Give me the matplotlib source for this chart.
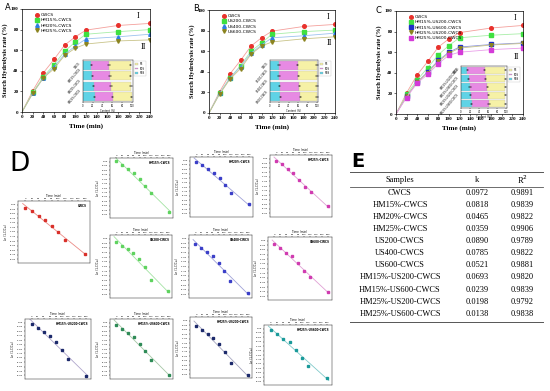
import matplotlib
matplotlib.use("Agg")
import matplotlib.pyplot as plt
import matplotlib.patches as mpatches
from matplotlib.lines import Line2D
import numpy as np

W, H = 550, 391
SERIF = "Liberation Serif"

# ---------------- data ---------------- #
t_hyd = [0, 20, 40, 60, 80, 100, 120, 180, 240]

a_labels = ["CWCS", "HM15%-CWCS", "HM20%-CWCS", "HM25%-CWCS"]
a_vals = [
    [0, 20.5, 38, 51, 65, 73, 79.5, 84, 86],
    [0, 19, 34, 46, 59, 68, 75.5, 78, 80],
    [0, 18, 33, 44, 56, 64, 71, 73, 75.5],
    [0, 18, 33, 42, 55, 62, 66, 69, 70],
]
b_labels = ["CWCS", "US200-CWCS", "US400-CWCS", "US600-CWCS"]
b_vals = [
    [0, 20.5, 38, 51, 65, 73, 79.5, 84, 86],
    [0, 19, 34, 46, 60, 68, 76.5, 79, 80.5],
    [0, 19, 34, 45, 58, 66, 73, 75, 77.5],
    [0, 18, 33, 43, 57, 65, 69, 72, 74],
]
c_labels = ["CWCS", "HM15%-US200-CWCS", "HM15%-US600-CWCS",
            "HM25%-US200-CWCS", "HM25%-US600-CWCS"]
c_vals = [
    [0, 20.5, 38, 51, 65, 73, 79, 83.5, 86],
    [0, 19, 33, 45, 57.5, 66.5, 74, 76.5, 78],
    [0, 17, 31, 41, 52, 60, 65, 67.5, 69],
    [0, 17, 31, 40, 51, 59, 64, 67, 68.5],
    [0, 16, 30, 38.5, 49, 57, 60, 62.5, 64],
]

# inset: starch fractions (%) per sample, top bar first
frac_names = ["RS", "SDS", "RDS"]
a_rds = [17, 19, 22, 24]
a_sds = [36, 36, 35, 37]
a_rs = [44, 42, 41, 38]
b_rds = [19, 19, 21, 22]
b_sds = [40, 41, 41, 42]
b_rs = [41, 40, 38, 36]
c_rds = [14, 17, 20, 22, 24]
c_sds = [39, 38, 38, 38, 38]
c_rs = [45, 43, 40, 38, 36]

# D: ln plots
t_ln = [0, 20, 40, 60, 80, 100, 120, 180]
ln_data = {
    "CWCS": [-0.16, -0.36, -0.60, -0.82, -1.18, -1.51, -1.95, -2.71],
    "HM15%-CWCS": [0.01, -0.21, -0.42, -0.64, -0.99, -1.41, -1.80, -2.85],
    "HM20%-CWCS": [-0.07, -0.27, -0.48, -0.69, -1.01, -1.37, -1.86, -2.48],
    "HM25%-CWCS": [-0.11, -0.31, -0.57, -0.76, -1.16, -1.56, -1.82, -2.61],
    "US200-CWCS": [-0.17, -0.37, -0.57, -0.77, -1.11, -1.52, -2.22, -2.82],
    "US400-CWCS": [-0.27, -0.50, -0.73, -0.96, -1.32, -1.73, -2.27, -2.91],
    "US600-CWCS": [-0.18, -0.39, -0.64, -0.82, -1.23, -1.64, -1.98, -2.75],
    "HM15%-US200-CWCS": [-0.10, -0.31, -0.52, -0.75, -1.09, -1.54, -2.05, -3.03],
    "HM15%-US600-CWCS": [-0.12, -0.35, -0.58, -0.82, -1.20, -1.63, -2.12, -2.96],
    "HM25%-US200-CWCS": [-0.28, -0.52, -0.74, -0.96, -1.33, -1.77, -2.34, -3.05],
    "HM25%-US600-CWCS": [-0.08, -0.31, -0.59, -0.76, -1.22, -1.65, -2.12, -2.79],
}

# E: table
tab_samples = ["CWCS", "HM15%-CWCS", "HM20%-CWCS", "HM25%-CWCS",
               "US200-CWCS", "US400-CWCS", "US600-CWCS",
               "HM15%-US200-CWCS", "HM15%-US600-CWCS",
               "HM25%-US200-CWCS", "HM25%-US600-CWCS"]
tab_k = ["0.0972", "0.0818", "0.0465", "0.0359", "0.0890", "0.0785",
         "0.0521", "0.0693", "0.0239", "0.0198", "0.0138"]
tab_r2 = ["0.9891", "0.9839", "0.9822", "0.9906", "0.9789", "0.9822",
          "0.9881", "0.9820", "0.9839", "0.9792", "0.9838"]


fig = plt.figure(figsize=(W / 100, H / 100), dpi=100)


def add_ax(l, t, r, b):
    return fig.add_axes([l / W, 1 - b / H, (r - l) / W, (b - t) / H])


def fx(x):
    return x / W


def fy(y):
    return 1 - y / H


# ---------------- A, B, C ---------------- #
def hydro_panel(box, labels, vals, colors, lcolors, markers, rom):
    ax = add_ax(*box)
    for lab, v, c, lc, m in zip(labels, vals, colors, lcolors, markers):
        ax.plot(t_hyd, v, "-", color=lc, lw=0.6)
        ax.plot(t_hyd[1:], v[1:], m, color=c, ms=2.6, ls="none", label=lab)
    ax.set_xlim(0, 240)
    ax.set_ylim(0, 100)
    ax.set_xticks(np.arange(0, 241, 20))
    ax.set_yticks(np.arange(0, 101, 20))
    ax.tick_params(labelsize=3.6, length=1.5, width=0.4, pad=1)
    for lab in ax.get_xticklabels() + ax.get_yticklabels():
        lab.set_family(SERIF)
        lab.set_weight("bold")
    for s in ax.spines.values():
        s.set_linewidth(0.5)
    ax.set_xlabel("Time (min)", fontsize=5, family=SERIF, weight="bold", labelpad=3)
    ax.set_ylabel("Starch Hydrolysis rate (%)", fontsize=4.6, family=SERIF,
                  weight="bold", labelpad=2)
    ax.legend(loc="upper left", bbox_to_anchor=(0.07, 0.99), fontsize=3.2,
              frameon=False, handlelength=1.2, handletextpad=0.3,
              labelspacing=0.25, borderpad=0.2)
    ax.text(rom[0], rom[1], "I", fontsize=6, family=SERIF)
    ax.text(rom[2], rom[3], "II", fontsize=6, family=SERIF)
    return ax


def inset_panel(box, names, rds, sds, rs):
    ax = add_ax(*box)
    y = np.arange(len(rds))[::-1]
    rds = np.array(rds)
    sds = np.array(sds)
    rs = np.array(rs)
    ekw = dict(elinewidth=0.3, capsize=0.6, capthick=0.3, ecolor="k")
    ax.barh(y, rds, 0.88, color="#5fd3e6", edgecolor="#b0b0b0", lw=0.2,
            xerr=1.2, error_kw=ekw, label=frac_names[2])
    ax.barh(y, sds, 0.88, left=rds, color="#e78ae3", edgecolor="#b0b0b0", lw=0.2,
            xerr=1.2, error_kw=ekw, label=frac_names[1])
    ax.barh(y, rs, 0.88, left=rds + sds, color="#f6f1a6", edgecolor="#b0b0b0",
            lw=0.2, xerr=1.2, error_kw=ekw, label=frac_names[0])
    ax.set_xlim(0, 102)
    ax.set_ylim(-0.5, len(rds) - 0.5)
    ax.set_yticks([])
    ax.set_xticks(np.arange(0, 101, 20))
    ax.tick_params(labelsize=1.8, length=0.8, width=0.3, pad=0.5)
    ax.set_xlabel("Content (%)", fontsize=1.8, labelpad=0.5)
    for s in ax.spines.values():
        s.set_linewidth(0.3)
    for yy, n in zip(y, names):
        ax.text(-2, yy, n, fontsize=1.8, rotation=50, ha="right", va="center")
    h = [mpatches.Patch(fc=c, ec="#999999", lw=0.2)
         for c in ["#f6f1a6", "#e78ae3", "#5fd3e6"]]
    ax.legend(h, frac_names, loc="upper left", bbox_to_anchor=(1.0, 1.0),
              fontsize=1.8, handlelength=1.2, handleheight=0.6,
              borderpad=0.3, labelspacing=0.2, frameon=True, fancybox=False,
              edgecolor="#999999").get_frame().set_linewidth(0.2)


red, green, blue, olive, mag = "#e8312c", "#3fe040", "#2f7fe0", "#8b8420", "#d43bd8"
lred, lgreen, lblue, lolive, lmag = "#f4a09c", "#a8eea8", "#9cc3ee", "#c9c48a", "#eaa0ea"

hydro_panel((22, 9, 150, 112), a_labels, a_vals,
            [red, green, blue, olive], [lred, lgreen, lblue, lolive],
            ["o", "s", "^", "v"], (215, 91, 222, 61))
inset_panel((83, 60, 133, 102), a_labels, a_rds, a_sds, a_rs)
fig.text(fx(5), fy(10), "A", fontsize=6, family="DejaVu Sans")

hydro_panel((209, 10, 335, 113), b_labels, b_vals,
            [red, green, blue, olive], [lred, lgreen, lblue, lolive],
            ["o", "s", "^", "v"], (224, 91, 224, 66))
inset_panel((270, 60, 318, 102), b_labels, b_rds, b_sds, b_rs)
fig.text(fx(193), fy(11), "B", fontsize=6, family="DejaVu Sans")

hydro_panel((396, 11, 523, 114), c_labels, c_vals,
            [red, green, "#1f2fc8", olive, mag],
            [lred, lgreen, "#8c95e0", lolive, lmag],
            ["o", "s", "s", "v", "s"], (222, 91, 222, 53))
inset_panel((461, 66, 507, 108), c_labels, c_rds, c_sds, c_rs)
fig.text(fx(376), fy(13), "C", fontsize=6, family="DejaVu Sans")

# ---------------- D ---------------- #
fig.text(fx(9), fy(171), "D", fontsize=19, family="DejaVu Sans")

ln_layout = [
    ("CWCS", (18, 201, 90, 263), "#d9302a", "#eb8b86"),
    ("HM15%-CWCS", (110, 158, 173, 218), "#5fd35f", "#a3e3a3"),
    ("HM20%-CWCS", (190, 157, 253, 217), "#3b3fc8", "#a0a2d8"),
    ("HM25%-CWCS", (270, 155, 332, 217), "#d03bb0", "#e0a0d4"),
    ("US200-CWCS", (110, 235, 172, 298), "#5fd35f", "#a3e3a3"),
    ("US400-CWCS", (189, 235, 252, 298), "#3b3fc8", "#a0a2d8"),
    ("US600-CWCS", (268, 237, 332, 300), "#d03bb0", "#e0a0d4"),
    ("HM15%-US200-CWCS", (25, 319, 91, 379), "#1c2a6b", "#b0a6cc"),
    ("HM15%-US600-CWCS", (110, 319, 173, 379), "#2e8b57", "#a6c6a6"),
    ("HM25%-US200-CWCS", (190, 317, 252, 378), "#1c2a6b", "#a6a6bf"),
    ("HM25%-US600-CWCS", (264, 325, 332, 385), "#1a9a9a", "#80caca"),
]

for name, box, mc, lc in ln_layout:
    ax = add_ax(*box)
    yv = np.array(ln_data[name])
    tv = np.array(t_ln)
    p = np.polyfit(tv, yv, 1)
    tl = np.array([tv.min() - 8, tv.max() + 5])
    ax.plot(tl, np.polyval(p, tl), "-", color=lc, lw=0.6)
    ax.plot(tv, yv, "s", color=mc, ms=1.5, ls="none")
    ax.set_xlim(-22, 195)
    ax.set_ylim(-3.2, 0.2)
    ax.set_xticks(np.arange(0, 181, 20))
    ax.set_yticks(np.arange(-3.0, 0.01, 0.25))
    ax.yaxis.set_major_formatter(matplotlib.ticker.FormatStrFormatter("%.2f"))
    ax.xaxis.tick_top()
    ax.xaxis.set_label_position("top")
    ax.tick_params(labelsize=1.7, length=0.8, width=0.3, pad=0.8)
    ax.set_xlabel("Time (min)", fontsize=2, labelpad=0.8)
    ax.set_ylabel("Ln (1-C/C\u221e)", fontsize=2, labelpad=1)
    for s in ax.spines.values():
        s.set_linewidth(0.3)
    ax.text(0.96, 0.95, name, transform=ax.transAxes, ha="right", va="top",
            fontsize=2, weight="bold")

# ---------------- E ---------------- #
fig.text(fx(351), fy(167), "E", fontsize=14, weight="bold", family="DejaVu Sans")
for yl, lw in [(172, 0.7), (187, 0.6), (322, 0.7)]:
    fig.add_artist(Line2D([fx(350), fx(543)], [fy(yl), fy(yl)], color="#555555", lw=lw))

col_x = [400, 477, 522]
fig.text(fx(col_x[0]), fy(180), "Samples", fontsize=6, family=SERIF, ha="center", va="center")
fig.text(fx(col_x[1]), fy(180), "k", fontsize=6, family=SERIF, ha="center", va="center")
fig.text(fx(col_x[2]), fy(180), "R$^2$", fontsize=6, family=SERIF, ha="center", va="center")
for i, (s, k, r) in enumerate(zip(tab_samples, tab_k, tab_r2)):
    yy = 192.7 + i * 12.1
    fig.text(fx(col_x[0]), fy(yy), s, fontsize=6, family=SERIF, ha="center", va="center")
    fig.text(fx(col_x[1]), fy(yy), k, fontsize=6, family=SERIF, ha="center", va="center")
    fig.text(fx(col_x[2]), fy(yy), r, fontsize=6, family=SERIF, ha="center", va="center")

fig.savefig("out.png", dpi=100)
